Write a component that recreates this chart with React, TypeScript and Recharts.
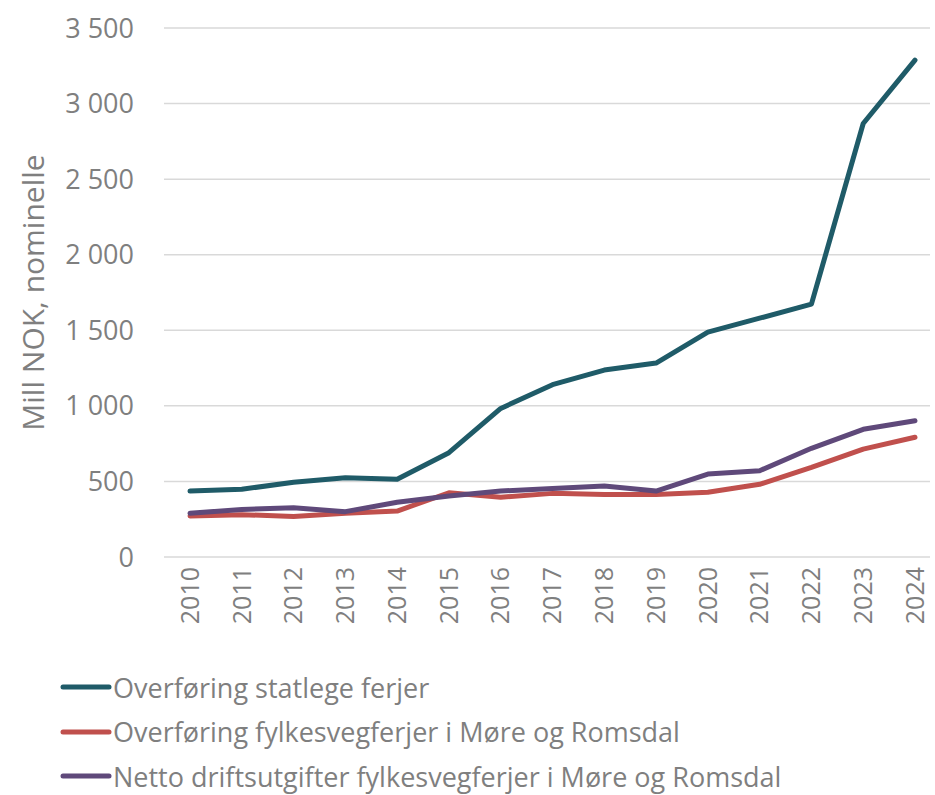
import React from 'react';
import { LineChart, Line, XAxis, YAxis, CartesianGrid, Legend } from 'recharts';

const years = ['2010','2011','2012','2013','2014','2015','2016','2017','2018','2019','2020','2021','2022','2023','2024'];
const statlege = [436, 448, 495, 525, 515, 690, 983, 1140, 1237, 1283, 1488, 1580, 1673, 2868, 3287];
const fylkesveg = [271, 280, 268, 289, 304, 425, 395, 421, 414, 414, 428, 481, 593, 714, 792];
const netto = [289, 315, 326, 300, 362, 403, 436, 454, 470, 436, 549, 571, 719, 845, 901];
const yTicks = [0, 500, 1000, 1500, 2000, 2500, 3000, 3500];

const seriesNames = [
  'Overføring statlege ferjer',
  'Overføring fylkesvegferjer i Møre og Romsdal',
  'Netto driftsutgifter fylkesvegferjer i Møre og Romsdal',
];
const colors = ['#1F5B68', '#C0504D', '#5F497A'];

const data = years.map((y, i) => ({ year: y, a: statlege[i], b: fylkesveg[i], c: netto[i] }));

const FONT = '"Open Sans", sans-serif';
const GRAY = '#7F7F7F';

const fmt = (v: number) => {
  const s = String(v);
  return s.length > 3 ? s.slice(0, s.length - 3) + ' ' + s.slice(-3) : s;
};

const LegendContent = (props: any) => {
  const payload = [...(props.payload || [])].sort(
    (p: any, q: any) => seriesNames.indexOf(p.value) - seriesNames.indexOf(q.value)
  );
  return (
    <div style={{ display: 'flex', flexDirection: 'column' }}>
      {payload.map((p: any, i: number) => (
        <div key={i} style={{ display: 'flex', alignItems: 'center', height: 44.5 }}>
          <svg width={52} height={10} style={{ marginRight: 1 }}>
            <line x1={3} y1={5} x2={49} y2={5} stroke={p.color} strokeWidth={5} strokeLinecap="round" />
          </svg>
          <span style={{ fontFamily: FONT, fontSize: 27, color: GRAY, whiteSpace: 'nowrap' }}>{p.value}</span>
        </div>
      ))}
    </div>
  );
};

export default function App() {
  return (
    <div style={{ position: 'absolute', left: 0, top: 0, width: 935, height: 795, background: '#fff' }}>
      <LineChart width={935} height={795} data={data} margin={{ top: 28, right: 5, bottom: 0, left: 0 }}>
        <CartesianGrid vertical={false} stroke="#D9D9D9" strokeWidth={1.5} />
        <XAxis
          dataKey="year"
          axisLine={false}
          tickLine={false}
          tickSize={0}
          tickMargin={10}
          interval={0}
          height={108}
          padding={{ left: 26, right: 15 }}
          angle={-90}
          textAnchor="end"
          tick={{ fill: GRAY, fontSize: 25, fontFamily: FONT, dx: -9 }}
        />
        <YAxis
          domain={[0, 3500]}
          ticks={yTicks}
          axisLine={false}
          tickLine={false}
          tickSize={0}
          tickMargin={30}
          width={164}
          tickFormatter={fmt}
          tick={{ fill: GRAY, fontSize: 27, fontFamily: FONT }}
          label={{ value: 'Mill NOK, nominelle', angle: -90, position: 'insideLeft', offset: 33, style: { textAnchor: 'middle', fill: GRAY, fontSize: 30, fontFamily: FONT } }}
        />
        <Legend
          verticalAlign="bottom"
          align="left"
          content={<LegendContent />}
          wrapperStyle={{ left: 60, bottom: 0, height: 130 }}
        />
        <Line dataKey="a" name={seriesNames[0]} stroke={colors[0]} strokeWidth={5} dot={false} isAnimationActive={false} strokeLinecap="round" strokeLinejoin="round" />
        <Line dataKey="b" name={seriesNames[1]} stroke={colors[1]} strokeWidth={5} dot={false} isAnimationActive={false} strokeLinecap="round" strokeLinejoin="round" />
        <Line dataKey="c" name={seriesNames[2]} stroke={colors[2]} strokeWidth={5} dot={false} isAnimationActive={false} strokeLinecap="round" strokeLinejoin="round" />
      </LineChart>
    </div>
  );
}
